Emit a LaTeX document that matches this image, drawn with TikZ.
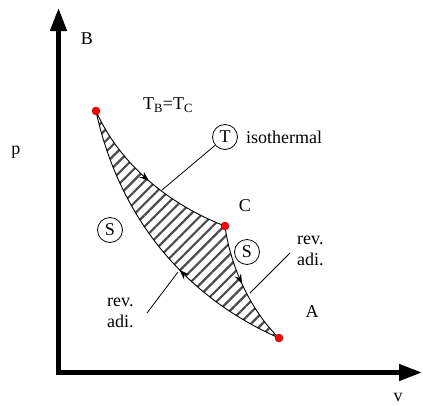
\documentclass[tikz,border=0pt]{standalone}
\usepackage{fontspec}
\setmainfont{Liberation Serif}
\newfontfamily\timesf{Liberation Serif}
\usetikzlibrary{arrows.meta,decorations.markings,patterns.meta}
\begin{document}
\begin{tikzpicture}[x=1pt,y=-1pt,
  lbl/.style={font=\timesf\fontsize{18}{21}\selectfont, inner sep=0pt},
  circ/.style={draw, circle, minimum size=25pt, inner sep=0pt, line width=0.8pt, font=\timesf\fontsize{18}{21}\selectfont},
  dot/.style={circle, fill=red, draw=red!60!black, line width=0.4pt, minimum size=8pt, inner sep=0pt},
  axis/.style={line width=4.5pt, -{Triangle[length=23pt,width=16pt]}},
  curve/.style={line width=0.9pt},
  leader/.style={line width=0.8pt},
  midarrow/.style={postaction={decorate}, decoration={markings, mark=at position #1 with {\arrow{Stealth[length=10pt,width=7pt]}}}}
]
\useasboundingbox (0,0) rectangle (423,405);
% axes
\coordinate (O) at (58.5,372.5);
\coordinate (ytip) at (58.5,8);
\coordinate (xtip) at (422,372.5);
\draw[axis] (O) -- (ytip);
\draw[axis] (O) -- (xtip);
\fill (56.25,370.25) rectangle (60.75,374.75);
% state points
\coordinate (B) at (96,111);
\coordinate (C) at (225,226);
\coordinate (A) at (279,338);
% hatched region
\path[pattern={Lines[angle=45,distance=8pt,line width=2.2pt]}, pattern color=black!70]
  (B) .. controls (120,165) and (170,205) .. (C)
      .. controls (230,265) and (250,310) .. (A)
      .. controls (170,290) and (115,200) .. (B);
% curves
\draw[curve, midarrow=0.5] (B) .. controls (120,165) and (170,205) .. (C);
\draw[curve, midarrow=0.48] (C) .. controls (230,265) and (250,310) .. (A);
\draw[curve, midarrow=0.4] (A) .. controls (170,290) and (115,200) .. (B);
% dots
\node[dot] (Bd) at (B) {};
\node[dot] (Cd) at (C) {};
\node[dot] (Ad) at (A) {};
% labels
\node[lbl] (lB) at (87,39) {B};
\node[lbl] (lp) at (16,152) {p};
\node[lbl] (lv) at (398,397) {v};
\node[lbl] (lA) at (312,312) {A};
\node[lbl] (lC) at (245,206) {C};
\node[lbl] (lT) at (168,105) {T\textsubscript{B}=T\textsubscript{C}};
% circles
\node[circ] (Tc) at (225,137) {T};
\node[lbl, anchor=west] (iso) at (246,137) {isothermal};
\node[circ] (S1) at (110,230) {S};
\node[circ] (S2) at (247,252) {S};
% rev. adi. labels
\node[lbl, anchor=west, align=left] (ra1) at (297,251) {rev.\\adi.};
\node[lbl, anchor=west, align=left] (ra2) at (107,313) {rev.\\adi.};
% leaders
\coordinate (t1) at (162,190);
\draw[leader] (Tc) -- (t1);
\coordinate (r1s) at (290,253);
\coordinate (r1e) at (250,293);
\draw[leader] (r1s) -- (r1e);
\coordinate (r2s) at (147,313);
\coordinate (r2e) at (178,272);
\draw[leader] (r2s) -- (r2e);
\end{tikzpicture}
\end{document}
